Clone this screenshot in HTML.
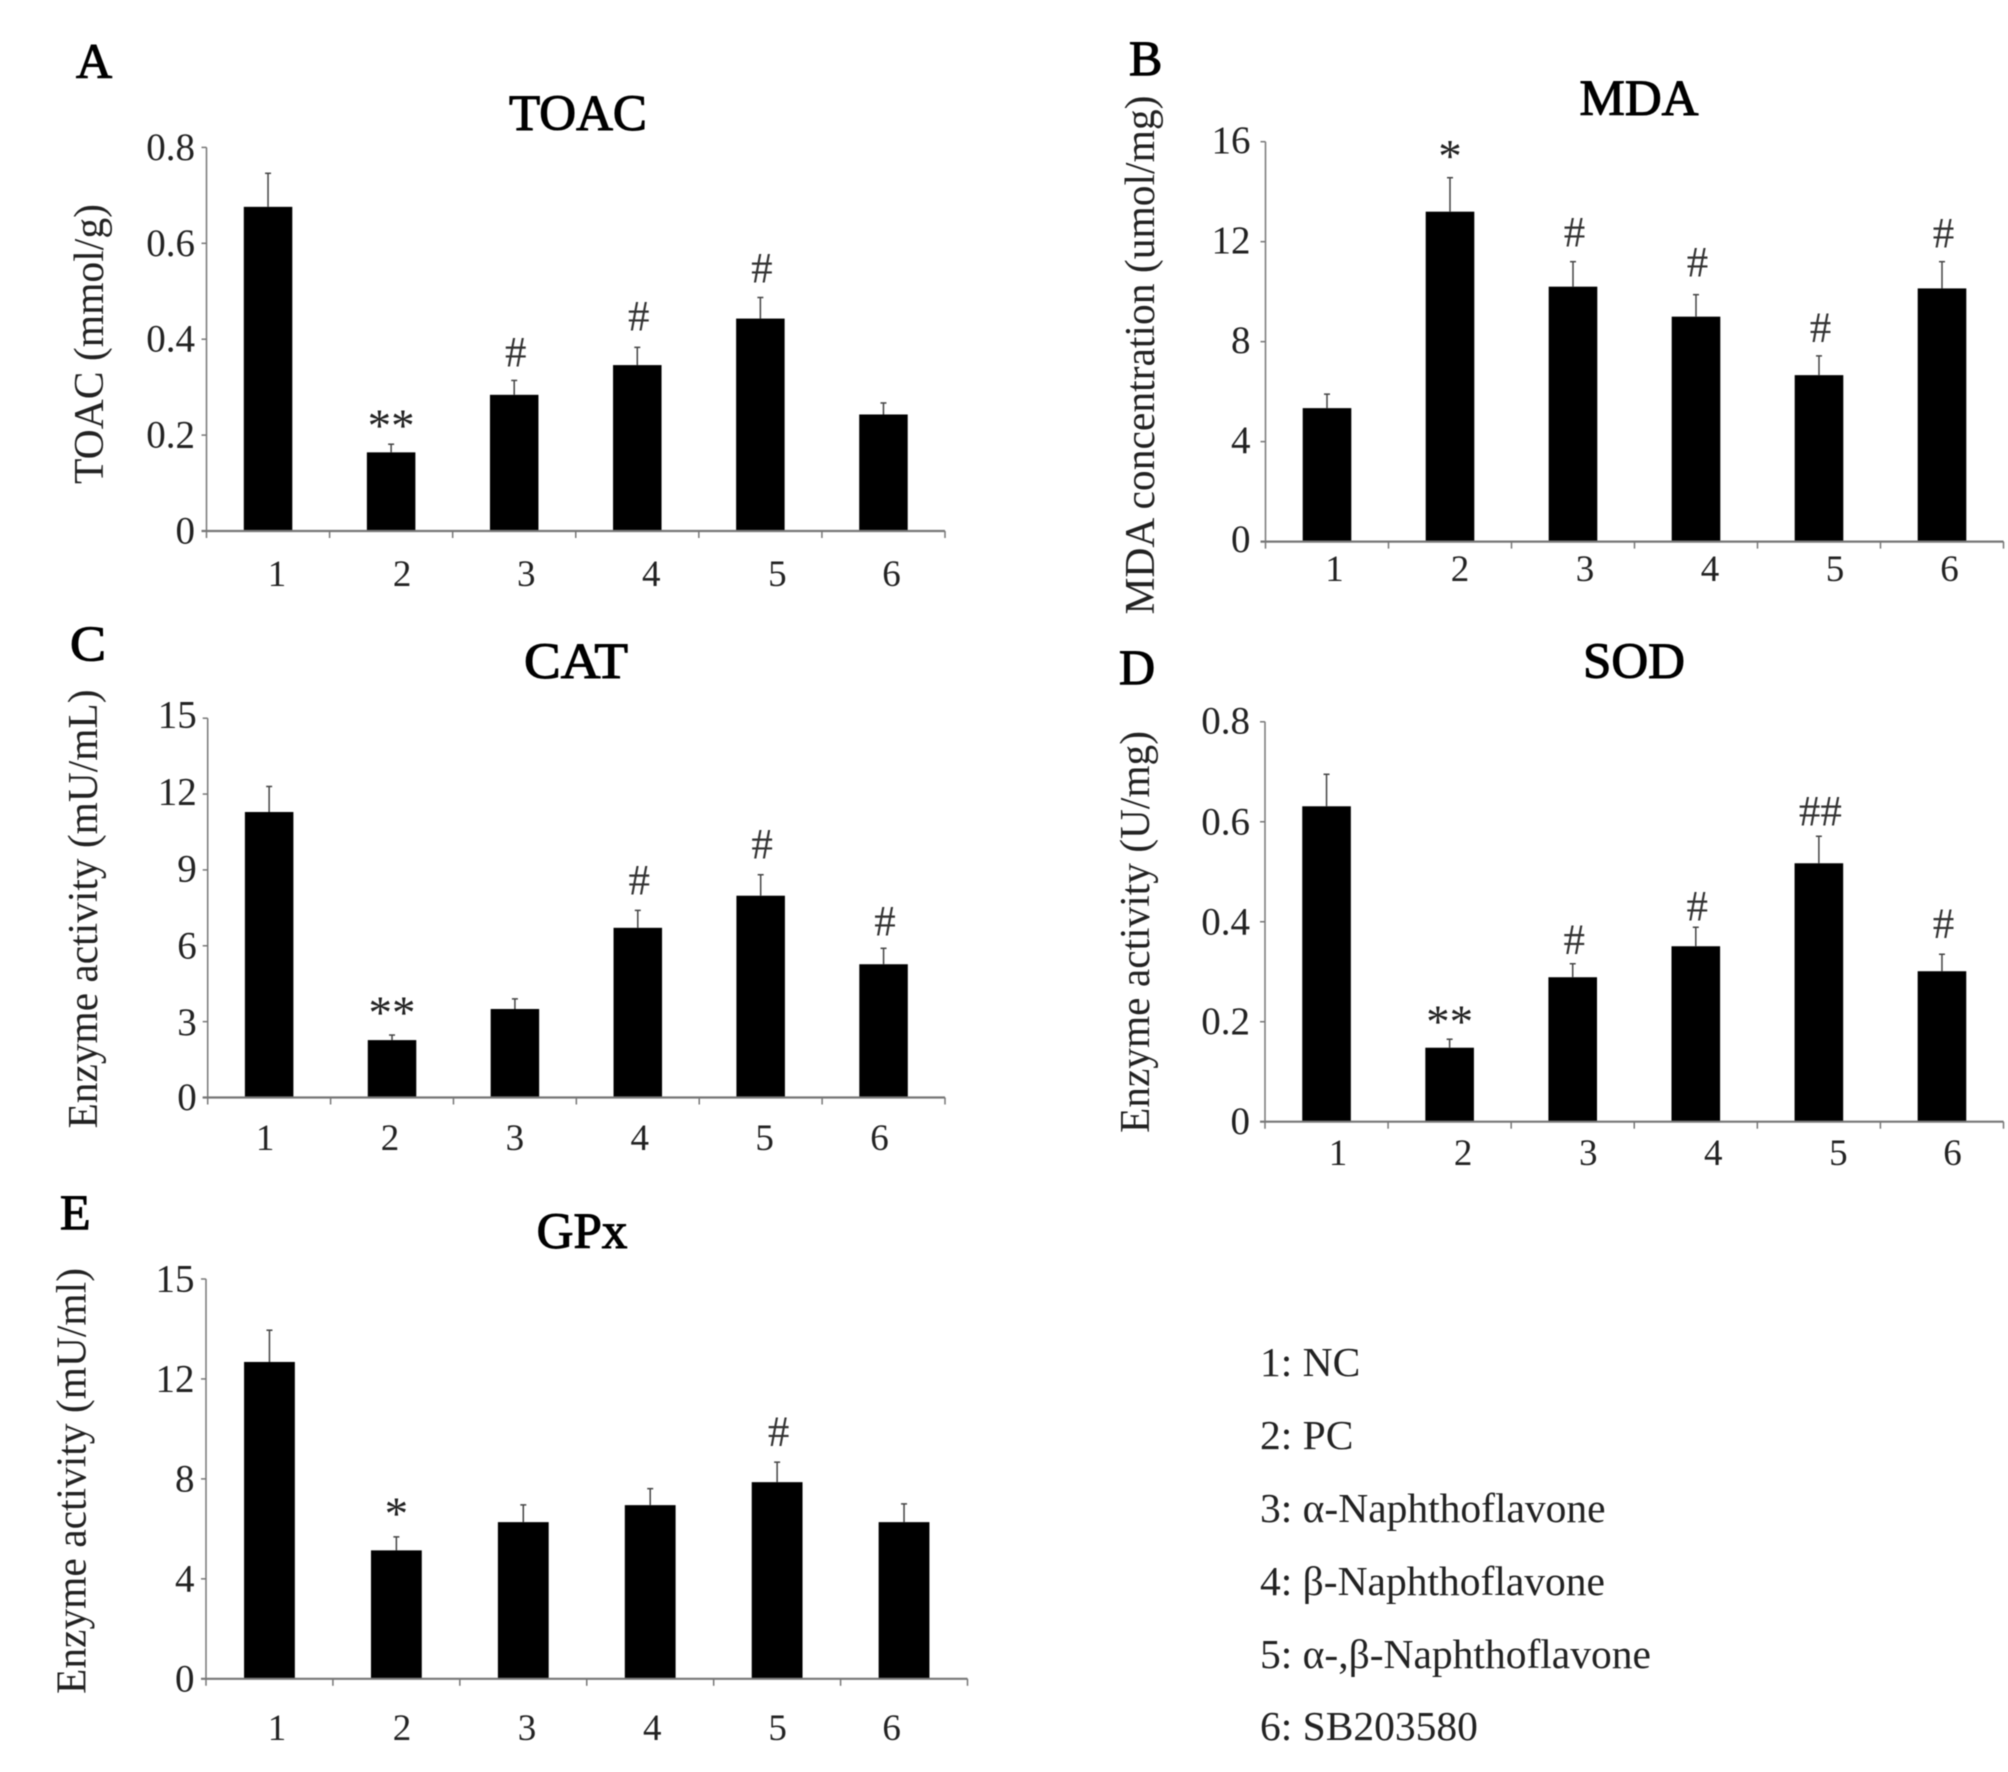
<!DOCTYPE html>
<html lang="en">
<head>
<meta charset="utf-8">
<title>Antioxidant markers bar charts</title>
<style>
html,body{margin:0;padding:0;background:#fff;width:2008px;height:1772px;overflow:hidden}
svg{display:block;filter:blur(.55px)}
text{font-family:"Liberation Serif",serif;fill:#111}
.title{font-size:51px;text-anchor:middle;stroke:#000;stroke-width:1.1px;fill:#000}
.letter{font-size:50px;stroke:#000;stroke-width:1.1px;fill:#000}
.ytitle{font-size:42.5px;text-anchor:middle;fill:#222}
.legend{font-size:41.5px;fill:#222}
.tick{font-size:39px;fill:#222}
.cat{font-size:37px;text-anchor:middle;fill:#222}
.mark{font-size:43px;text-anchor:middle;fill:#333}
.mark.star{font-size:47px;fill:#222}
</style>
</head>
<body>
<svg id="figure" xmlns="http://www.w3.org/2000/svg" width="2008" height="1772" viewBox="0 0 2008 1772">
  <rect x="0" y="0" width="2008" height="1772" fill="#fff"/>

  <g id="panel-a">
    <text class="letter" x="76" y="78">A</text>
    <text class="title" x="578" y="130">TOAC</text>
    <text class="ytitle" transform="translate(103,344) rotate(-90)" textLength="280" lengthAdjust="spacingAndGlyphs">TOAC (mmol/g)</text>
  </g>
  <g id="panel-b">
    <text class="letter" x="1129" y="75">B</text>
    <text class="title" x="1639" y="115">MDA</text>
    <text class="ytitle" transform="translate(1154,355) rotate(-90)" textLength="519" lengthAdjust="spacingAndGlyphs">MDA concentration (umol/mg)</text>
  </g>
  <g id="panel-c">
    <text class="letter" x="70" y="660" textLength="36" lengthAdjust="spacingAndGlyphs">C</text>
    <text class="title" x="576" y="678" textLength="104" lengthAdjust="spacingAndGlyphs">CAT</text>
    <text class="ytitle" transform="translate(97,909) rotate(-90)" textLength="439" lengthAdjust="spacingAndGlyphs">Enzyme activity (mU/mL)</text>
  </g>
  <g id="panel-d">
    <text class="letter" x="1119" y="684">D</text>
    <text class="title" x="1634" y="678">SOD</text>
    <text class="ytitle" transform="translate(1149,932) rotate(-90)" textLength="402" lengthAdjust="spacingAndGlyphs">Enzyme activity (U/mg)</text>
  </g>
  <g id="panel-e">
    <text class="letter" x="60" y="1229">E</text>
    <text class="title" x="582" y="1248">GPx</text>
    <text class="ytitle" transform="translate(85.5,1481) rotate(-90)" textLength="426" lengthAdjust="spacingAndGlyphs">Enzyme activity (mU/ml)</text>
  </g>

  <g>
    <text class="legend" x="1260" y="1376">1: NC</text>
    <text class="legend" x="1260" y="1449">2: PC</text>
    <text class="legend" x="1260" y="1522">3: α-Naphthoflavone</text>
    <text class="legend" x="1260" y="1595">4: β-Naphthoflavone</text>
    <text class="legend" x="1260" y="1668">5: α-,β-Naphthoflavone</text>
    <text class="legend" x="1260" y="1740">6: SB203580</text>
  </g>
</svg>

<script>
var categories = ['1', '2', '3', '4', '5', '6'];

var toacValues = [0.676, 0.164, 0.284, 0.346, 0.443, 0.243];
var toacErrorTops = [0.746, 0.181, 0.314, 0.383, 0.487, 0.267];
var toacTickValues = [0, 0.2, 0.4, 0.6, 0.8];
var toacTickLabels = ['0', '0.2', '0.4', '0.6', '0.8'];
var toacMarks = ['', '**', '#', '#', '#', ''];

var mdaValues = [5.34, 13.2, 10.2, 9.0, 6.66, 10.13];
var mdaErrorTops = [5.9, 14.56, 11.2, 9.88, 7.43, 11.2];
var mdaTickValues = [0, 4, 8, 12, 16];
var mdaTickLabels = ['0', '4', '8', '12', '16'];
var mdaMarks = ['', '*', '#', '#', '#', '#'];

var catValues = [11.29, 2.27, 3.5, 6.71, 7.98, 5.27];
var catErrorTops = [12.3, 2.47, 3.9, 7.4, 8.81, 5.9];
var catTickValues = [0, 3, 6, 9, 12, 15];
var catTickLabels = ['0', '3', '6', '9', '12', '15'];
var catMarks = ['', '**', '', '#', '#', '#'];

var sodValues = [0.631, 0.148, 0.289, 0.351, 0.517, 0.301];
var sodErrorTops = [0.695, 0.165, 0.316, 0.389, 0.571, 0.335];
var sodTickValues = [0, 0.2, 0.4, 0.6, 0.8];
var sodTickLabels = ['0', '0.2', '0.4', '0.6', '0.8'];
var sodMarks = ['', '**', '#', '#', '##', '#'];

var gpxValues = [12.68, 5.14, 6.27, 6.95, 7.87, 6.27];
var gpxErrorTops = [13.95, 5.68, 6.96, 7.61, 8.67, 7.0];
var gpxTickValues = [0, 4, 8, 12, 16];
var gpxTickLabels = ['0', '4', '8', '12', '15'];
var gpxMarks = ['', '*', '', '', '#', ''];

var SVG_NS = 'http://www.w3.org/2000/svg';

function add(parent, tag, attrs, text) {
  var el = document.createElementNS(SVG_NS, tag);
  for (var k in attrs) { el.setAttribute(k, attrs[k]); }
  if (text !== undefined) { el.textContent = text; }
  parent.appendChild(el);
  return el;
}

function drawPanel(cfg) {
  var root = document.getElementById(cfg.id);
  var n = categories.length;
  function xScale(i) { return cfg.left + (cfg.right - cfg.left) * (i + 0.5) / n; }
  function xEdge(i) { return cfg.left + (cfg.right - cfg.left) * i / n; }
  function yScale(v) { return cfg.bottom - (cfg.bottom - cfg.top) * v / cfg.max; }

  cfg.values.forEach(function (v, i) {
    var bar = add(root, 'rect', {x: xScale(i) - cfg.barWidth / 2, y: yScale(v), width: cfg.barWidth, height: cfg.bottom - yScale(v), fill: '#000'});
    
    

    var stem = add(root, 'line', {x1: xScale(i), x2: xScale(i), y1: yScale(v), y2: yScale(cfg.errorTops[i]), stroke: '#444', 'stroke-width': 1.5});
    
    

    var cap = add(root, 'line', {x1: xScale(i) - 3, x2: xScale(i) + 3, y1: yScale(cfg.errorTops[i]), y2: yScale(cfg.errorTops[i]), stroke: '#444', 'stroke-width': 1.5});
    
    

    if (cfg.marks[i]) {
      var isStar = cfg.marks[i].charAt(0) === '*';
      var mark = add(root, 'text', {'class': isStar ? 'mark star' : 'mark', x: xScale(i) + (isStar ? 0 : 1.5), y: yScale(cfg.errorTops[i]) - cfg.markGap[i]}, cfg.marks[i]);
      
      
    }
  });

  var yAxis = add(root, 'line', {x1: cfg.left, x2: cfg.left, y1: cfg.top, y2: cfg.bottom + 7, stroke: '#777', 'stroke-width': 1.5});
  
  

  var xAxis = add(root, 'line', {x1: cfg.left - 5, x2: cfg.right, y1: cfg.bottom, y2: cfg.bottom, stroke: '#777', 'stroke-width': 2.2});
  
  

  cfg.tickValues.forEach(function (v, i) {
    var tick = add(root, 'line', {x1: cfg.left - 5, x2: cfg.left, y1: yScale(v), y2: yScale(v), stroke: '#777', 'stroke-width': 1.5});
    
    

    var label = add(root, 'text', {'class': 'tick', 'text-anchor': 'end', x: cfg.left - cfg.tickGap, y: yScale(v) + 12.5 + cfg.tickNudge[i]}, cfg.tickLabels[i]);
    
    
  });

  for (var e = 1; e <= n; e++) {
    var xTick = add(root, 'line', {x1: xEdge(e), x2: xEdge(e), y1: cfg.bottom, y2: cfg.bottom + 7, stroke: '#777', 'stroke-width': 1.5});
    
    
  }

  categories.forEach(function (c, i) {
    var catLabel = add(root, 'text', {'class': 'cat', x: xScale(i) + cfg.labelNudge[i], y: cfg.labelY}, c);
    
    
  });
}

drawPanel({id: 'panel-a', key: 'toac', left: 206.5, right: 945, top: 147.4, bottom: 531, max: 0.8, barWidth: 48.5,
  values: toacValues, errorTops: toacErrorTops, tickValues: toacTickValues, tickLabels: toacTickLabels, marks: toacMarks,
  tickGap: 11.5, tickNudge: [0, 0, 0, 0, 0],
  markGap: [0, 3, 14, 17, 15, 0], labelNudge: [9, 11, 12, 14, 17, 8], labelY: 586});

drawPanel({id: 'panel-b', key: 'mda', left: 1265.5, right: 2003.5, top: 141.7, bottom: 541.6, max: 16, barWidth: 48.6,
  values: mdaValues, errorTops: mdaErrorTops, tickValues: mdaTickValues, tickLabels: mdaTickLabels, marks: mdaMarks,
  tickGap: 15, tickNudge: [-2, -1, -1, -1, -1],
  markGap: [0, 6, 15, 18, 14, 14], labelNudge: [7.5, 10, 12, 14, 16, 7.5], labelY: 581});

drawPanel({id: 'panel-c', key: 'cat', left: 207.7, right: 945, top: 718.2, bottom: 1097.5, max: 15, barWidth: 48.5,
  values: catValues, errorTops: catErrorTops, tickValues: catTickValues, tickLabels: catTickLabels, marks: catMarks,
  tickGap: 11, tickNudge: [0, 1, 0, -1, -2, -3],
  markGap: [0, 7, 0, 16, 16, 13], labelNudge: [-4, -2, 0, 2, 4, -4], labelY: 1150});

drawPanel({id: 'panel-d', key: 'sod', left: 1265, right: 2003.5, top: 721.8, bottom: 1121.7, max: 0.8, barWidth: 48.6,
  values: sodValues, errorTops: sodErrorTops, tickValues: sodTickValues, tickLabels: sodTickLabels, marks: sodMarks,
  tickGap: 15, tickNudge: [0, 0, 0, 0, -1],
  markGap: [0, 2, 9.6, 6.5, 11, 16], labelNudge: [11.5, 13.5, 15.5, 17.5, 19.5, 10.5], labelY: 1165});

drawPanel({id: 'panel-e', key: 'gpx', left: 206, right: 967.5, top: 1279, bottom: 1678.8, max: 16, barWidth: 50.8,
  values: gpxValues, errorTops: gpxErrorTops, tickValues: gpxTickValues, tickLabels: gpxTickLabels, marks: gpxMarks,
  tickGap: 11.5, tickNudge: [0, 0, 0, 0, 0],
  markGap: [0, 8, 0, 0, 16, 0], labelNudge: [7.5, 5.6, 3.7, 2, 0.5, -12.4], labelY: 1740});
</script>
</body>
</html>
